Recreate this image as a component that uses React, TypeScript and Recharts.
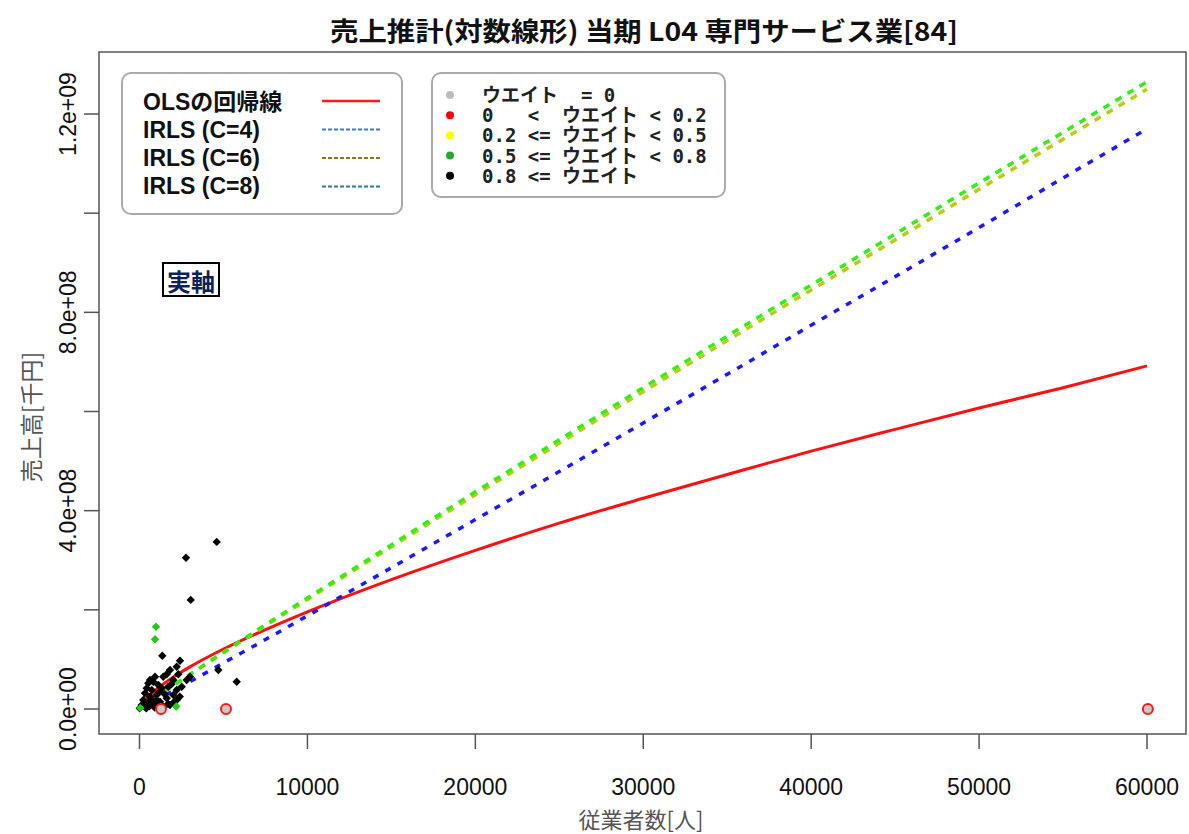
import React from 'react';
import { ComposedChart, Line, Scatter, XAxis, YAxis } from 'recharts';

// Regression curves sampled on a common grid of employee counts
const lineX = [100, 500, 1000, 2000, 3000, 5000, 7500, 10000, 15000, 20000, 25000, 30000, 35000, 40000, 45000, 50000, 55000, 60000];
const olsY = [7.8e6, 2.42e7, 3.93e7, 6.4e7, 8.5e7, 1.21e8, 1.6e8, 1.96e8, 2.61e8, 3.2e8, 3.75e8, 4.25e8, 4.73e8, 5.2e8, 5.64e8, 6.07e8, 6.48e8, 6.92e8];
const irls4Y = [1.7e6, 8.9e6, 1.8e7, 3.64e7, 5.5e7, 9.3e7, 1.4e8, 1.88e8, 2.85e8, 3.82e8, 4.79e8, 5.77e8, 6.75e8, 7.74e8, 8.72e8, 9.71e8, 1.071e9, 1.17e9];
const irls6Y = [2.5e6, 1.2e7, 2.38e7, 4.66e7, 6.9e7, 1.133e8, 1.68e8, 2.21e8, 3.27e8, 4.32e8, 5.36e8, 6.4e8, 7.43e8, 8.45e8, 9.46e8, 1.048e9, 1.149e9, 1.25e9];
const irls8Y = [2.6e6, 1.24e7, 2.42e7, 4.73e7, 7.0e7, 1.148e8, 1.7e8, 2.24e8, 3.31e8, 4.38e8, 5.43e8, 6.48e8, 7.52e8, 8.55e8, 9.58e8, 1.061e9, 1.163e9, 1.265e9];

// Observations with weight >= 0.8
const heavyX = [4598, 2769, 3049, 1358, 2412, 2215, 1816, 1620, 1417, 923, 625, 822, 524, 1120, 429, 727, 1322, 328, 625, 1024, 226, 524, 131, 10, 822, 1221, 1620, 2013, 2215, 2513, 1816, 1417, 2215, 2013, 2811, 3007, 2311, 1715, 4693, 5789, 300, 600, 900, 1100, 700, 1500, 1900, 1200, 400, 1000, 2000, 1700, 2400];
const heavyY = [3.37e8, 3.05e8, 2.2e8, 1.075e8, 9.74e7, 8.53e7, 7.87e7, 7.0e7, 6.51e7, 6.51e7, 5.85e7, 5.51e7, 5.18e7, 4.84e7, 4.17e7, 3.83e7, 4.17e7, 3.17e7, 2.48e7, 2.82e7, 1.82e7, 1.47e7, 8.1e6, 1.4e6, 1.15e7, 1.47e7, 2.16e7, 2.82e7, 3.83e7, 4.5e7, 8.1e6, 4.6e6, 1.82e7, 5.85e7, 5.85e7, 6.51e7, 7.0e7, 4.5e7, 7.87e7, 5.51e7, 5e6, 6e6, 3e6, 1.0e7, 2.0e7, 3.0e7, 5.0e7, 3.5e7, 1.2e6, 1.8e7, 1.2e7, 1.0e7, 2.5e7];

// Observations with 0.5 <= weight < 0.8
const midX = [983, 923, 2190, 50];
const midY = [1.66e8, 1.406e8, 5e6, 2e6];

// Down-weighted observations
const outlierX = [1280, 5151, 60050];
const outlierY = [0, 0, 0];

const xTicks = [0, 10000, 20000, 30000, 40000, 50000, 60000];
const yTicks = [0, 2e8, 4e8, 6e8, 8e8, 1e9, 1.2e9];
const yLabelValues = [0, 4e8, 8e8, 1.2e9];
const yLabelTexts = ['0.0e+00', '4.0e+08', '8.0e+08', '1.2e+09'];

const weightLegend = [
  { label: 'ウエイト  = 0', color: '#bdbdbd' },
  { label: '0   <  ウエイト < 0.2', color: '#ff0000' },
  { label: '0.2 <= ウエイト < 0.5', color: '#ffff00' },
  { label: '0.5 <= ウエイト < 0.8', color: '#22aa33' },
  { label: '0.8 <= ウエイト', color: '#000000' },
];

const fitLegend = [
  { label: 'OLSの回帰線', color: '#ff1a1a', dash: '' },
  { label: 'IRLS (C=4)', color: '#3a7ccc', dash: '4 2' },
  { label: 'IRLS (C=6)', color: '#808000', dash: '4 2' },
  { label: 'IRLS (C=8)', color: '#2a7f80', dash: '4 2' },
];

const toPoints = (xs: number[], ys: number[]) => xs.map((x, i) => ({ x, y: ys[i] }));

const olsData = toPoints(lineX, olsY);
const irls4Data = toPoints(lineX, irls4Y);
const irls6Data = toPoints(lineX, irls6Y);
const irls8Data = toPoints(lineX, irls8Y);
const heavyData = toPoints(heavyX, heavyY);
const midData = toPoints(midX, midY);
const outlierData = toPoints(outlierX, outlierY);

const Diamond = (color: string) => (props: any) => {
  const { cx, cy } = props;
  if (cx == null || cy == null) return <g />;
  const r = 4.2;
  return <path d={`M${cx},${cy - r}L${cx + r},${cy}L${cx},${cy + r}L${cx - r},${cy}Z`} fill={color} />;
};

const Ring = (props: any) => {
  const { cx, cy } = props;
  if (cx == null || cy == null) return <g />;
  return <circle cx={cx} cy={cy} r={5} fill="#c8c8c8" stroke="#ff1a1a" strokeWidth={2} />;
};

const XTick = (props: any) => {
  const { x, payload } = props;
  return (
    <text x={x} y={787} textAnchor="middle" dominantBaseline="central" fontFamily="'Liberation Sans', Arial, sans-serif" fontSize={23} fill="#111">
      {payload.value}
    </text>
  );
};

const YTick = (props: any) => {
  const { y, payload } = props;
  const i = yLabelValues.indexOf(payload.value);
  if (i < 0) return <g />;
  return (
    <text x={68} y={y} transform={`rotate(-90 68 ${y})`} textAnchor="middle" dominantBaseline="central" fontFamily="'Liberation Sans', Arial, sans-serif" fontSize={23} fill="#111">
      {yLabelTexts[i]}
    </text>
  );
};

const cjk = "'Noto Sans CJK JP', 'Noto Sans', sans-serif";
const legendFont = "'Liberation Sans', 'Noto Sans CJK JP', sans-serif";
const mono = "'DejaVu Sans Mono', 'Noto Sans CJK JP', monospace";

export default function App() {
  return (
    <div style={{ position: 'absolute', left: 0, top: 0, width: 1189, height: 834, background: '#fff' }}>
      <ComposedChart width={1189} height={834} margin={{ top: 52, right: 3, left: 0, bottom: 0 }}>
        <XAxis
          type="number"
          dataKey="x"
          domain={[-2412, 62322]}
          allowDataOverflow
          ticks={xTicks}
          tick={<XTick />}
          tickSize={15}
          tickLine={{ stroke: '#555', strokeWidth: 1.5 }}
          axisLine={false}
          height={100}
          interval={0}
        />
        <YAxis
          type="number"
          dataKey="y"
          domain={[-5.042e7, 1.32504e9]}
          allowDataOverflow
          ticks={yTicks}
          tick={<YTick />}
          tickSize={15}
          tickLine={{ stroke: '#555', strokeWidth: 1.5 }}
          axisLine={false}
          width={99}
          interval={0}
        />
        <Scatter data={heavyData} dataKey="y" shape={Diamond('#000')} isAnimationActive={false} />
        <Scatter data={midData} dataKey="y" shape={Diamond('#22cc11')} isAnimationActive={false} />
        <Scatter data={outlierData} dataKey="y" shape={Ring} isAnimationActive={false} />
        <Line data={olsData} dataKey="y" type="monotone" stroke="#ff1010" strokeWidth={3} dot={false} isAnimationActive={false} />
        <Line data={irls4Data} dataKey="y" type="monotone" stroke="#1a1aff" strokeWidth={3.5} strokeDasharray="6 8" dot={false} isAnimationActive={false} />
        <Line data={irls6Data} dataKey="y" type="monotone" stroke="#b8cc10" strokeWidth={3.5} strokeDasharray="7 7" dot={false} isAnimationActive={false} />
        <Line data={irls8Data} dataKey="y" type="monotone" stroke="#33ee11" strokeWidth={3.5} strokeDasharray="7 7" dot={false} isAnimationActive={false} />
      </ComposedChart>
      <svg width={1189} height={834} style={{ position: 'absolute', left: 0, top: 0, pointerEvents: 'none' }}>
        <rect x={99} y={52} width={1087} height={682} fill="none" stroke="#555" strokeWidth={1.5} />
        <text x={644} y={29} textAnchor="middle" dominantBaseline="central" fontFamily={cjk} fontWeight="bold" fontSize={26} fill="#111" textLength={628} lengthAdjust="spacingAndGlyphs">
          売上推計(対数線形) 当期 L04 専門サービス業[84]
        </text>
        <text x={641} y={818} textAnchor="middle" dominantBaseline="central" fontFamily={cjk} fontSize={22} fill="#555">
          従業者数[人]
        </text>
        <text x={30} y={417} transform="rotate(-90 30 417)" textAnchor="middle" dominantBaseline="central" fontFamily={cjk} fontSize={23} fill="#555">
          売上高[千円]
        </text>

        <rect x={122} y={73} width={280} height={141} rx={9} fill="#fff" stroke="#aaa" strokeWidth={2} />
        {fitLegend.map((d, i) => (
          <g key={d.label}>
            <text x={143} y={102 + i * 28} dominantBaseline="central" fontFamily={legendFont} fontWeight="bold" fontSize={23} fill="#111">
              {d.label}
            </text>
            <line x1={322} x2={380} y1={101 + i * 28.5} y2={101 + i * 28.5} stroke={d.color} strokeWidth={i === 0 ? 2.5 : 2} strokeDasharray={d.dash || undefined} />
          </g>
        ))}

        <rect x={432} y={73} width={293} height={124} rx={9} fill="#fff" stroke="#aaa" strokeWidth={2} />
        {weightLegend.map((d, i) => (
          <g key={d.label}>
            <circle cx={450} cy={95 + i * 20.2} r={4} fill={d.color} />
            <text x={482} y={95 + i * 20.2} dominantBaseline="central" fontFamily={mono} fontWeight="bold" fontSize={19} fill="#222" style={{ whiteSpace: 'pre' }}>
              {d.label}
            </text>
          </g>
        ))}

        <rect x={163} y={263} width={56} height={33} fill="#fff" stroke="#000" strokeWidth={2} />
        <text x={191} y={280} textAnchor="middle" dominantBaseline="central" fontFamily={cjk} fontWeight="bold" fontSize={24} fill="#0b1f5c">
          実軸
        </text>
      </svg>
    </div>
  );
}
